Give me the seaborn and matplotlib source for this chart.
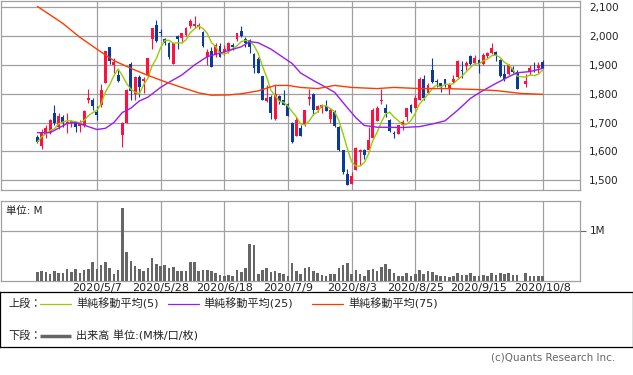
import numpy as np
import pandas as pd
import seaborn as sns
import matplotlib.pyplot as plt

# 日付ラベル (15営業日ごと)
date_labels = ['2020/5/7', '2020/5/28', '2020/6/18', '2020/7/9',
               '2020/8/3', '2020/8/25', '2020/9/15', '2020/10/8']
date_pos = [14, 29, 44, 59, 74, 89, 104, 119]

# 四本値 (index 114 = 10/1 取引停止)
opens = [1650, 1619, 1659, 1668, 1732, 1685, 1720, 1694, 1698, 1699,
         1688, 1693, 1779, 1780, 1737, 1760, 1838, 1961, 1900, 1865,
         1656, 1699, 1903, 1798, 1859, 1844, 1865, 1989, 2039, 2015,
         1989, 1977, 1902, 2000, 1992, 2004, 2036, 2035, 2033, 2015,
         1929, 1948, 1934, 1966, 1946, 1952, 1971, 1989, 2018, 1989,
         1986, 1938, 1919, 1861, 1774, 1789, 1711, 1792, 1778, 1766,
         1700, 1653, 1682, 1693, 1781, 1799, 1745, 1749, 1757, 1714,
         1737, 1685, 1604, 1523, 1486, 1537, 1598, 1604, 1604, 1648,
         1706, 1774, 1751, 1708, 1664, 1662, 1691, 1720, 1760, 1752,
         1780, 1853, 1801, 1884, 1844, 1836, 1850, 1815, 1842, 1857,
         1882, 1896, 1931, 1908, 1917, 1903, 1931, 1940, 1946, 1917,
         1868, 1868, 1890, 1876, np.nan, 1834, 1876, 1891, 1888, 1909]
highs = [1656, 1679, 1691, 1712, 1760, 1732, 1726, 1732, 1708, 1703,
         1708, 1745, 1815, 1787, 1757, 1833, 1948, 1961, 1923, 1882,
         1703, 1815, 1911, 1861, 1865, 1859, 1923, 2029, 2056, 2024,
         1992, 1981, 1977, 2004, 2012, 2033, 2058, 2070, 2047, 2019,
         1957, 1961, 1977, 1975, 1969, 1981, 1977, 2012, 2035, 1996,
         1989, 1940, 1929, 1861, 1830, 1795, 1830, 1795, 1813, 1769,
         1703, 1720, 1691, 1745, 1818, 1801, 1760, 1766, 1780, 1749,
         1743, 1688, 1606, 1540, 1529, 1616, 1610, 1610, 1685, 1749,
         1757, 1815, 1766, 1711, 1671, 1693, 1708, 1752, 1766, 1795,
         1857, 1865, 1838, 1923, 1853, 1838, 1853, 1836, 1865, 1917,
         1913, 1913, 1934, 1934, 1919, 1942, 1946, 1977, 1949, 1919,
         1900, 1903, 1896, 1882, np.nan, 1868, 1900, 1911, 1911, 1917]
lows = [1630, 1610, 1645, 1662, 1691, 1679, 1685, 1664, 1683, 1668,
        1668, 1685, 1769, 1743, 1708, 1755, 1836, 1905, 1871, 1842,
        1616, 1699, 1778, 1778, 1789, 1801, 1861, 1957, 1981, 2000,
        1969, 1919, 1902, 1954, 1975, 2000, 2027, 2027, 2024, 1963,
        1900, 1894, 1929, 1926, 1934, 1940, 1952, 1984, 1998, 1963,
        1942, 1871, 1873, 1778, 1772, 1714, 1708, 1766, 1760, 1722,
        1630, 1653, 1654, 1688, 1760, 1726, 1737, 1732, 1740, 1699,
        1685, 1602, 1521, 1485, 1486, 1537, 1552, 1575, 1602, 1648,
        1706, 1764, 1720, 1668, 1645, 1659, 1674, 1706, 1732, 1749,
        1780, 1778, 1799, 1838, 1822, 1807, 1822, 1799, 1838, 1853,
        1855, 1882, 1900, 1905, 1871, 1900, 1923, 1938, 1915, 1859,
        1845, 1865, 1871, 1815, np.nan, 1822, 1865, 1876, 1873, 1888]
closes = [1633, 1668, 1682, 1708, 1699, 1722, 1699, 1703, 1705, 1685,
          1703, 1741, 1786, 1757, 1726, 1813, 1948, 1913, 1911, 1845,
          1699, 1813, 1810, 1859, 1822, 1852, 1923, 2027, 1984, 2012,
          1977, 1929, 1975, 1991, 2010, 2030, 2054, 2042, 2039, 1967,
          1946, 1894, 1969, 1926, 1954, 1977, 1963, 2010, 2000, 1977,
          1963, 1888, 1873, 1780, 1784, 1734, 1798, 1774, 1760, 1722,
          1633, 1708, 1654, 1743, 1789, 1743, 1757, 1760, 1740, 1743,
          1688, 1604, 1529, 1485, 1514, 1613, 1604, 1587, 1641, 1745,
          1752, 1780, 1732, 1671, 1660, 1691, 1701, 1749, 1737, 1784,
          1853, 1784, 1830, 1842, 1840, 1822, 1830, 1830, 1853, 1913,
          1879, 1908, 1903, 1923, 1903, 1934, 1940, 1960, 1934, 1861,
          1850, 1900, 1876, 1818, np.nan, 1845, 1888, 1888, 1900, 1890]

# 出来高 (M)
volume = [0.17, 0.19, 0.17, 0.14, 0.19, 0.16, 0.16, 0.23, 0.17, 0.23,
          0.16, 0.21, 0.23, 0.37, 0.23, 0.31, 0.37, 0.25, 0.13, 0.21,
          1.46, 0.57, 0.39, 0.29, 0.23, 0.19, 0.25, 0.46, 0.33, 0.29,
          0.31, 0.25, 0.27, 0.19, 0.19, 0.19, 0.37, 0.37, 0.19, 0.21,
          0.21, 0.19, 0.15, 0.11, 0.09, 0.11, 0.09, 0.21, 0.17, 0.25,
          0.74, 0.71, 0.13, 0.21, 0.25, 0.17, 0.19, 0.15, 0.13, 0.10,
          0.35, 0.19, 0.13, 0.25, 0.27, 0.19, 0.15, 0.11, 0.09, 0.13,
          0.13, 0.25, 0.31, 0.35, 0.13, 0.21, 0.13, 0.09, 0.21, 0.23,
          0.19, 0.27, 0.33, 0.23, 0.15, 0.09, 0.09, 0.15, 0.09, 0.13,
          0.21, 0.13, 0.19, 0.17, 0.11, 0.09, 0.09, 0.07, 0.09, 0.15,
          0.11, 0.11, 0.15, 0.09, 0.09, 0.11, 0.09, 0.15, 0.11, 0.15,
          0.13, 0.15, 0.11, 0.11, np.nan, 0.15, 0.09, 0.09, 0.09, 0.09]

# 移動平均 (25日, 75日) 読み取り値
ma25_idx = [0, 3, 7, 9, 12, 14, 16, 18, 20, 22, 24, 26, 29, 31, 34, 37, 40,
            43, 45, 48, 50, 52, 55, 58, 60, 62, 65, 68, 70, 72, 75, 77, 80,
            86, 90, 93, 96, 99, 102, 104, 108, 111, 113, 116, 119]
ma25_val = [1665, 1665, 1697, 1700, 1686, 1676, 1680, 1700, 1735, 1750,
            1775, 1788, 1822, 1840, 1865, 1900, 1929, 1941, 1950, 1963,
            1981, 1977, 1955, 1925, 1905, 1872, 1846, 1822, 1805, 1769,
            1717, 1690, 1684, 1683, 1686, 1695, 1706, 1743, 1784, 1803,
            1836, 1859, 1873, 1877, 1888]
ma75_idx = [0, 6, 10, 14, 18, 23, 26, 30, 34, 38, 41, 45, 48, 52, 56, 59,
            62, 66, 70, 74, 80, 84, 90, 96, 103, 108, 111, 114, 119]
ma75_val = [2103, 2044, 1996, 1955, 1915, 1882, 1864, 1842, 1822, 1803,
            1795, 1796, 1800, 1810, 1829, 1829, 1822, 1818, 1829, 1822,
            1818, 1822, 1818, 1818, 1815, 1811, 1806, 1801, 1798]

UP = '#ff1040'
DOWN = '#0a3a9e'
C5 = '#99cc00'
C25 = '#9a1cf0'
C75 = '#ff3a00'
GRID = '#a0a0a0'

sns.set_style('white')
plt.rcParams['font.family'] = ['DejaVu Sans', 'Noto Sans CJK JP']

df = pd.DataFrame({'open': opens, 'high': highs, 'low': lows,
                   'close': closes, 'volume': volume})
df['day'] = np.arange(len(df))
ok = df.dropna()
up = ok['close'] >= ok['open']

W, H = 633, 375
fig = plt.figure(figsize=(W / 100, H / 100), dpi=100)
ax = fig.add_axes([0.5 / W, 1 - 190 / H, 579.5 / W, 189 / H])
axv = fig.add_axes([0.5 / W, 1 - 280.5 / H, 579.5 / W, 79.5 / H])

xlim = (-8.7, 127.8)

# ローソク足
for sel, col in [(up, UP), (~up, DOWN)]:
    d = ok[sel]
    ax.vlines(d['day'], d['low'], d['high'], color=col, lw=0.8, zorder=3)
    body = np.maximum((d['close'] - d['open']).abs(), 3)
    ax.bar(d['day'], body, bottom=np.minimum(d['open'], d['close']),
           width=0.68, color=col, linewidth=0, zorder=3)

ma5 = ok.set_index('day')['close'].rolling(5, min_periods=1).mean()
sns.lineplot(x=ma5.index, y=ma5.values, ax=ax, color=C5, lw=1, zorder=4)
sns.lineplot(x=ma25_idx, y=ma25_val, ax=ax, color=C25, lw=1, zorder=4)
sns.lineplot(x=ma75_idx, y=ma75_val, ax=ax, color=C75, lw=1, zorder=4)

ax.set_xlim(*xlim)
ax.set_ylim(1466, 2122)
ax.set_xticks(date_pos)
ax.set_xticklabels([])
ax.set_yticks(range(1500, 2101, 100))
ax.set_yticklabels([f'{v:,}' for v in range(1500, 2101, 100)])
ax.yaxis.tick_right()
ax.tick_params(axis='y', length=0, pad=6.5, labelsize=7.5, labelcolor='#222222')
ax.tick_params(axis='x', length=0)
ax.grid(True, color=GRID, lw=0.9)
ax.set_axisbelow(True)
ax.set_xlabel('')
ax.set_ylabel('')

# 出来高
axv.bar(ok['day'], ok['volume'], width=0.62, color='#666666', linewidth=0, zorder=3)
axv.set_xlim(*xlim)
axv.set_ylim(0, 1.59)
axv.set_xticks(date_pos)
axv.set_xticklabels(date_labels)
axv.set_yticks([1.0])
axv.set_yticklabels(['1M'])
axv.yaxis.tick_right()
axv.tick_params(axis='y', length=4, width=0.8, color='#666666', pad=3,
                labelsize=7.5, labelcolor='#222222')
axv.tick_params(axis='x', length=0, pad=1.5, labelsize=8, labelcolor='#222222')
axv.grid(True, color=GRID, lw=0.9)
axv.set_axisbelow(True)
axv.text(5 / 579.5, 0.88, '単位: M', transform=axv.transAxes, fontsize=7.5,
         color='#222222', va='center')

for a in (ax, axv):
    for s in a.spines.values():
        s.set_color(GRID)
        s.set_linewidth(0.9)

# 凡例ボックス
lg = fig.add_axes([0, 1 - 346.5 / H, 632.5 / W, 55 / H])
lg.set_xlim(0, 632.5)
lg.set_ylim(346.5, 291.5)
lg.set_xticks([])
lg.set_yticks([])
for s in lg.spines.values():
    s.set_color('black')
    s.set_linewidth(0.9)
ly1, ly2 = 303.5, 336
lg.text(8, ly1, '上段：', fontsize=8, va='center', color='#222222')
lg.text(8, ly2, '下段：', fontsize=8, va='center', color='#222222')
for x0, x1, tx, col, lab in [(40, 71, 76, C5, '単純移動平均(5)'),
                             (168, 199, 203, C25, '単純移動平均(25)'),
                             (312, 343, 348, C75, '単純移動平均(75)')]:
    lg.plot([x0, x1], [ly1, ly1], color=col, lw=0.9)
    lg.text(tx, ly1, lab, fontsize=8, va='center', color='#222222')
lg.plot([40, 71], [ly2, ly2], color='#666666', lw=2.5, solid_capstyle='butt')
lg.text(76, ly2, '出来高 単位:(M株/口/枚)', fontsize=8, va='center', color='#222222')

fig.text(615 / W, 1 - 358 / H, '(c)Quants Research Inc.', fontsize=7.5,
         color='#666666', ha='right', va='center')

fig.savefig('out.png', dpi=100)
